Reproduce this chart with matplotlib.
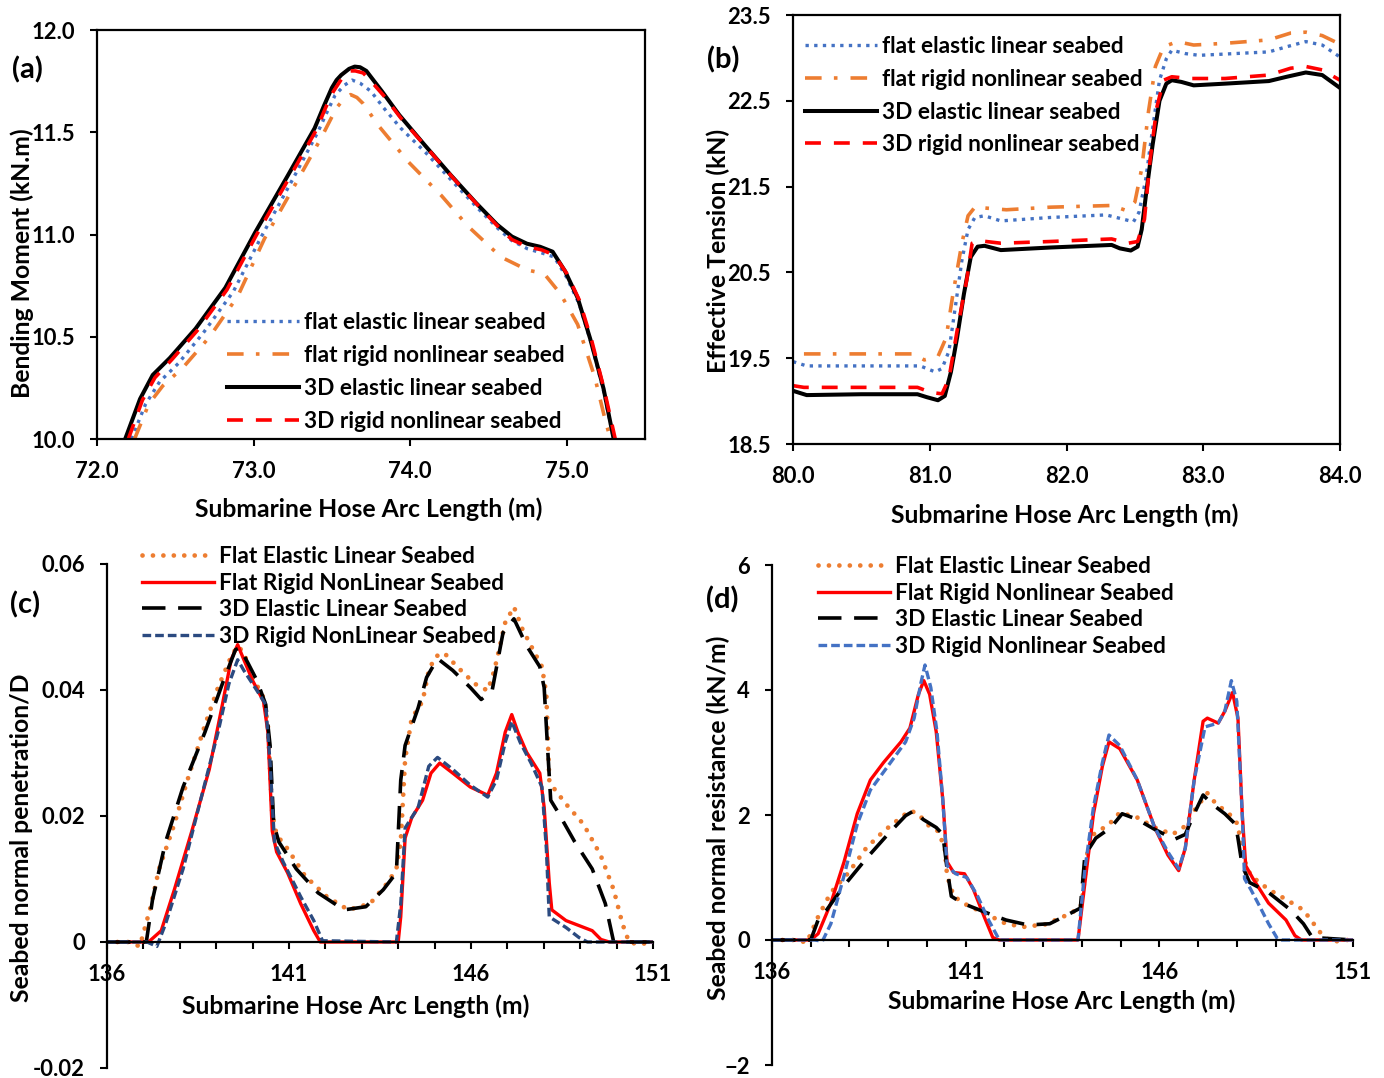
import matplotlib
matplotlib.use('Agg')
import matplotlib.pyplot as plt
from matplotlib.ticker import FuncFormatter, MultipleLocator

plt.rcParams['font.family'] = ['Lato', 'DejaVu Sans']
plt.rcParams['font.weight'] = 'bold'

BLUE = '#4472C4'
ORANGE = '#ED7D31'
RED = '#FF0000'
NAVY = '#2B4A80'

################################## (a) bending moment ##################################
a_x_blue = [72.22, 72.31, 72.40, 72.52, 72.68, 72.87, 73.05, 73.25, 73.41, 73.47, 73.52, 73.58, 73.63, 73.68, 73.75,
            73.83, 73.94, 74.10, 74.27, 74.43, 74.56, 74.65, 74.75, 74.84, 74.92, 75.00, 75.08, 75.16, 75.24, 75.30]
a_y_blue = [10.0, 10.17, 10.28, 10.37, 10.52, 10.72, 10.99, 11.27, 11.50, 11.60, 11.68, 11.73, 11.755, 11.74, 11.70,
            11.62, 11.52, 11.40, 11.26, 11.13, 11.03, 10.97, 10.93, 10.91, 10.89, 10.79, 10.66, 10.46, 10.22, 10.0]
a_x_orange = [72.24, 72.33, 72.42, 72.55, 72.72, 72.90, 73.07, 73.27, 73.43, 73.53, 73.58, 73.62, 73.66, 73.70,
              73.80, 73.99, 74.20, 74.37, 74.58, 74.75, 74.855, 74.96, 75.07, 75.18, 75.25, 75.28]
a_y_orange = [10.0, 10.17, 10.26, 10.35, 10.50, 10.70, 10.98, 11.25, 11.47, 11.62, 11.665, 11.684, 11.67, 11.64,
              11.53, 11.354, 11.19, 11.04, 10.89, 10.826, 10.809, 10.71, 10.56, 10.30, 10.08, 10.0]
a_x_black = [72.18, 72.275, 72.356, 72.465, 72.63, 72.82, 73.01, 73.22, 73.39, 73.45, 73.50, 73.53, 73.56, 73.61,
             73.646, 73.68, 73.72, 73.76, 73.82, 73.93, 74.09, 74.26, 74.42, 74.556, 74.65, 74.746, 74.83, 74.91,
             74.99, 75.07, 75.15, 75.235, 75.30]
a_y_black = [10.0, 10.196, 10.313, 10.396, 10.54, 10.74, 11.01, 11.29, 11.52, 11.63, 11.717, 11.755, 11.78, 11.81,
             11.821, 11.818, 11.80, 11.76, 11.70, 11.585, 11.44, 11.29, 11.155, 11.048, 10.99, 10.955, 10.94,
             10.916, 10.82, 10.69, 10.49, 10.247, 10.0]
a_x_red = [72.20, 72.29, 72.37, 72.48, 72.64, 72.83, 73.02, 73.23, 73.40, 73.46, 73.51, 73.57, 73.62, 73.65, 73.70,
           73.75, 73.83, 73.94, 74.10, 74.27, 74.43, 74.56, 74.65, 74.75, 74.84, 74.92, 75.00, 75.08, 75.16, 75.24,
           75.31]
a_y_red = [10.0, 10.19, 10.30, 10.39, 10.53, 10.73, 11.0, 11.28, 11.51, 11.62, 11.70, 11.77, 11.80, 11.80, 11.79,
           11.75, 11.68, 11.57, 11.43, 11.28, 11.145, 11.04, 10.975, 10.94, 10.925, 10.90, 10.81, 10.68, 10.48, 10.24,
           10.0]
a_labels = ['flat elastic linear seabed', 'flat rigid nonlinear seabed', '3D elastic linear seabed',
            '3D rigid nonlinear seabed']

################################## (b) effective tension ##################################
b_x_blue = [80.0, 80.1, 80.5, 80.93, 81.04, 81.09, 81.14, 81.19, 81.235, 81.28, 81.33, 81.40, 81.52, 81.88, 82.29,
            82.39, 82.49, 82.53, 82.58, 82.63, 82.68, 82.73, 82.77, 82.87, 82.97, 83.48, 83.61, 83.75, 83.87, 84.0]
b_y_blue = [19.46, 19.41, 19.41, 19.41, 19.34, 19.38, 19.58, 20.13, 20.64, 21.0, 21.14, 21.16, 21.10, 21.14, 21.17,
            21.13, 21.09, 21.20, 21.59, 22.18, 22.74, 22.99, 23.09, 23.05, 23.03, 23.07, 23.13, 23.19, 23.15, 23.01]
b_x_orange = [80.08, 80.5, 80.88, 80.96, 81.06, 81.12, 81.17, 81.235, 81.28, 81.33, 81.56, 81.88, 82.33, 82.44,
              82.50, 82.55, 82.60, 82.65, 82.71, 82.81, 82.93, 83.16, 83.48, 83.64, 83.75, 83.87, 84.0]
b_y_orange = [19.55, 19.55, 19.55, 19.48, 19.52, 19.74, 20.25, 20.84, 21.16, 21.26, 21.23, 21.26, 21.28, 21.22,
              21.32, 21.71, 22.38, 22.90, 23.13, 23.19, 23.15, 23.17, 23.21, 23.29, 23.30, 23.26, 23.16]
b_x_black = [80.0, 80.1, 80.5, 80.91, 80.98, 81.06, 81.11, 81.155, 81.20, 81.25, 81.30, 81.35, 81.40, 81.52, 81.88,
             82.33, 82.39, 82.47, 82.52, 82.55, 82.58, 82.63, 82.68, 82.73, 82.77, 82.84, 82.93, 83.16, 83.48,
             83.61, 83.75, 83.87, 84.0]
b_y_black = [19.12, 19.07, 19.08, 19.08, 19.045, 19.01, 19.06, 19.34, 19.74, 20.25, 20.68, 20.80, 20.81, 20.76,
             20.79, 20.82, 20.78, 20.755, 20.80, 21.0, 21.39, 21.99, 22.5, 22.70, 22.74, 22.72, 22.68, 22.70, 22.73,
             22.78, 22.83, 22.80, 22.65]
b_x_red = [80.0, 80.08, 80.5, 80.91, 81.01, 81.09, 81.14, 81.20, 81.27, 81.31, 81.36, 81.52, 81.88, 82.33, 82.45,
           82.52, 82.57, 82.61, 82.66, 82.71, 82.77, 82.90, 83.16, 83.48, 83.64, 83.75, 83.87, 84.0]
b_y_red = [19.18, 19.16, 19.16, 19.16, 19.10, 19.085, 19.26, 19.82, 20.41, 20.84, 20.87, 20.84, 20.86, 20.89, 20.84,
           20.86, 21.12, 21.79, 22.42, 22.74, 22.78, 22.76, 22.76, 22.80, 22.88, 22.90, 22.86, 22.74]

################################## (c) normal penetration ##################################
c_x_orange = [136.0, 136.6, 136.9, 137.2, 137.43, 137.85, 138.21, 138.69, 139.05, 139.41, 139.59, 139.76, 140.0,
              140.3, 140.42, 140.54, 140.66, 140.96, 141.44, 142.04, 142.63, 143.23, 143.71, 143.95, 144.07, 144.19,
              144.37, 144.67, 144.84, 145.02, 145.26, 145.62, 146.10, 146.46, 146.64, 146.94, 147.18, 147.41, 147.65,
              147.95, 148.07, 148.15, 148.25, 148.61, 149.09, 149.56, 149.92, 150.16, 150.34, 150.6, 151.0]
c_y_orange = [0.0, 0.0, -0.0007, 0.0056, 0.0116, 0.0187, 0.0257, 0.0344, 0.0404, 0.0453, 0.047, 0.0459, 0.042,
              0.0388, 0.0344, 0.0203, 0.017, 0.0148, 0.0105, 0.0072, 0.0051, 0.0061, 0.0094, 0.0116, 0.0159, 0.029,
              0.0355, 0.0382, 0.0431, 0.0453, 0.0459, 0.0437, 0.041, 0.0399, 0.0431, 0.0507, 0.0532, 0.0497, 0.047,
              0.0437, 0.0393, 0.0257, 0.0246, 0.0219, 0.0187, 0.0138, 0.0083, 0.0029, 0.0, -0.0004, 0.0]
c_x_red = [136.0, 136.8, 137.14, 137.49, 137.85, 138.33, 138.81, 139.17, 139.41, 139.59, 139.76, 140.0, 140.3,
           140.42, 140.54, 140.66, 140.96, 141.32, 141.68, 141.86, 144.0, 144.07, 144.19, 144.37, 144.67, 144.9,
           145.14, 145.5, 145.98, 146.46, 146.7, 146.94, 147.12, 147.29, 147.53, 147.89, 148.01, 148.15, 148.22,
           148.61, 149.33, 149.57, 149.8, 151.0]
c_y_red = [0.0, 0.0, 0.0, 0.0018, 0.0083, 0.0176, 0.0274, 0.0377, 0.0448, 0.0472, 0.0448, 0.0415, 0.0382, 0.0333,
           0.0176, 0.0143, 0.011, 0.0061, 0.0018, 0.0, 0.0, 0.004, 0.0165, 0.0197, 0.0225, 0.0268, 0.0284, 0.0268,
           0.0246, 0.0233, 0.0268, 0.0333, 0.0361, 0.0333, 0.0301, 0.0268, 0.0214, 0.0094, 0.0051, 0.0034, 0.0018,
           0.0004, 0.0, 0.0]
c_x_black = [136.0, 136.6, 137.08, 137.25, 137.61, 138.09, 138.69, 139.17, 139.53, 139.65, 139.88, 140.12, 140.36,
             140.48, 140.58, 140.72, 141.2, 141.8, 142.51, 143.11, 143.59, 143.95, 144.07, 144.19, 144.55, 144.78,
             145.08, 145.5, 145.98, 146.28, 146.58, 146.88, 147.18, 147.53, 147.89, 148.01, 148.10, 148.19, 148.37,
             148.85, 149.33, 149.69, 149.92, 151.0]
c_y_black = [0.0, 0.0, 0.0, 0.0067, 0.0159, 0.0246, 0.0333, 0.041, 0.0464, 0.0467, 0.0442, 0.0415, 0.0377, 0.0312,
             0.0187, 0.0159, 0.0116, 0.0078, 0.0051, 0.0056, 0.0083, 0.011, 0.0257, 0.0312, 0.0372, 0.042, 0.045,
             0.0431, 0.0404, 0.0385, 0.0399, 0.0491, 0.0513, 0.047, 0.0437, 0.0404, 0.0312, 0.0225, 0.0208, 0.0159,
             0.0116, 0.0061, 0.0, 0.0]
c_x_navy = [136.0, 137.1, 137.37, 137.61, 138.09, 138.57, 139.05, 139.35, 139.59, 139.76, 140.12, 140.36, 140.48,
            140.6, 140.84, 141.32, 141.68, 141.92, 143.95, 144.07, 144.19, 144.55, 144.84, 145.08, 145.5, 145.98,
            146.46, 146.7, 146.94, 147.12, 147.35, 147.65, 147.95, 148.07, 148.15, 148.61, 148.97, 149.2, 151.0]
c_y_navy = [0.0, 0.0, -0.0007, 0.0029, 0.0116, 0.0225, 0.0333, 0.041, 0.0448, 0.0431, 0.0399, 0.0377, 0.0284,
            0.0159, 0.0127, 0.0072, 0.0034, 0.0002, 0.0, 0.006, 0.0181, 0.0214, 0.0279, 0.0293, 0.0274, 0.0249,
            0.023, 0.0257, 0.0317, 0.035, 0.0317, 0.0284, 0.0246, 0.0148, 0.004, 0.0023, 0.0007, 0.0, 0.0]
c_labels = ['Flat Elastic Linear Seabed', 'Flat Rigid NonLinear Seabed', '3D Elastic Linear Seabed',
            '3D Rigid NonLinear Seabed']

################################## (d) normal resistance ##################################
d_x_orange = [136.0, 136.6, 136.9, 137.19, 137.52, 137.98, 138.43, 138.88, 139.33, 139.56, 139.78, 140.0, 140.29,
              140.46, 140.52, 140.69, 141.03, 141.48, 142.04, 142.5, 143.06, 143.51, 143.96, 144.02, 144.13, 144.3,
              144.7, 144.98, 145.43, 145.88, 146.34, 146.62, 146.9, 147.24, 147.46, 147.8, 148.03, 148.14, 148.36,
              148.82, 149.27, 149.72, 150.18, 150.46, 150.7, 151.0]
d_y_orange = [0.0, 0.0, -0.04, 0.37, 0.76, 1.08, 1.47, 1.74, 1.96, 2.07, 2.02, 1.85, 1.74, 1.47, 1.03, 0.70, 0.56,
              0.43, 0.26, 0.21, 0.25, 0.37, 0.51, 0.70, 1.36, 1.69, 1.85, 2.04, 1.96, 1.80, 1.69, 1.80, 2.07, 2.35,
              2.18, 2.02, 1.85, 1.36, 1.03, 0.81, 0.65, 0.48, 0.10, -0.04, 0.0, 0.0]
d_x_red = [136.0, 137.0, 137.19, 137.52, 137.86, 138.2, 138.54, 138.88, 139.33, 139.56, 139.78, 139.92, 140.07,
           140.24, 140.41, 140.52, 140.69, 140.97, 141.2, 141.48, 141.7, 141.87, 143.9, 144.08, 144.3, 144.53, 144.7,
           144.98, 145.43, 145.88, 146.22, 146.5, 146.67, 146.9, 147.13, 147.24, 147.52, 147.69, 147.89, 148.03,
           148.14, 148.23, 148.42, 148.82, 149.27, 149.5, 149.67, 151.0]
d_y_red = [0.0, 0.0, 0.1, 0.59, 1.25, 2.02, 2.56, 2.84, 3.17, 3.39, 3.93, 4.15, 3.93, 3.33, 2.24, 1.25, 1.08, 1.06,
           0.81, 0.37, 0.04, 0.0, 0.0, 0.92, 2.02, 2.78, 3.17, 3.06, 2.56, 1.80, 1.36, 1.11, 1.47, 2.56, 3.50, 3.55,
           3.47, 3.66, 3.96, 3.55, 2.02, 1.19, 0.98, 0.59, 0.32, 0.07, 0.0, 0.0]
d_x_black = [136.0, 137.0, 137.19, 137.41, 137.86, 138.43, 138.99, 139.45, 139.67, 139.9, 140.24, 140.41, 140.52,
             140.63, 140.91, 141.48, 142.04, 142.61, 143.17, 143.62, 143.96, 144.08, 144.36, 144.75, 145.04, 145.43,
             145.88, 146.39, 146.67, 146.9, 147.13, 147.35, 147.69, 147.97, 148.03, 148.14, 148.33, 148.82, 149.39,
             149.72, 149.95, 151.0]
d_y_black = [0.0, 0.0, 0.32, 0.48, 0.87, 1.30, 1.69, 1.99, 2.07, 1.93, 1.80, 1.69, 1.14, 0.70, 0.59, 0.45, 0.32,
             0.24, 0.26, 0.40, 0.51, 1.36, 1.63, 1.80, 2.02, 1.93, 1.77, 1.61, 1.69, 2.02, 2.32, 2.18, 2.02, 1.85,
             1.63, 1.19, 0.92, 0.76, 0.48, 0.26, 0.04, 0.0]
d_x_blue = [136.0, 137.1, 137.3, 137.52, 137.86, 138.2, 138.54, 138.99, 139.45, 139.67, 139.84, 139.95, 140.1,
            140.26, 140.41, 140.52, 140.74, 141.03, 141.31, 141.59, 141.87, 143.9, 144.08, 144.3, 144.53, 144.7,
            144.98, 145.43, 145.88, 146.22, 146.5, 146.67, 146.9, 147.18, 147.52, 147.69, 147.86, 148.0, 148.14,
            148.2, 148.36, 148.59, 148.82, 149.05, 149.16, 151.0]
d_y_blue = [0.0, 0.0, -0.02, 0.26, 1.03, 1.85, 2.4, 2.78, 3.17, 3.55, 4.1, 4.40, 4.04, 3.33, 2.24, 1.19, 1.06, 1.0,
            0.70, 0.32, 0.0, 0.0, 1.14, 2.13, 2.84, 3.28, 3.11, 2.56, 1.80, 1.41, 1.14, 1.47, 2.56, 3.41, 3.47, 3.66,
            4.15, 3.82, 2.02, 0.98, 0.81, 0.54, 0.26, 0.02, 0.0, 0.0]
d_labels = ['Flat Elastic Linear Seabed', 'Flat Rigid Nonlinear Seabed', '3D Elastic Linear Seabed',
            '3D Rigid Nonlinear Seabed']

x_title = 'Submarine Hose Arc Length (m)'

fig = plt.figure(figsize=(13.84, 10.78), dpi=100)
W, H = 1384.0, 1078.0


def px_axes(l, t, r, b):
    # axes box given in pixel coordinates of the picture
    return fig.add_axes([l / W, 1 - b / H, (r - l) / W, (b - t) / H])


TICK = 15.8
LAB = 17.8
LEG = 16.3
PANEL = 21
leg_kw = dict(loc='upper left', bbox_transform=fig.transFigure, frameon=False, fontsize=LEG,
              handlelength=3.2, handletextpad=0.22, borderpad=0, borderaxespad=0)
dots = (0, (0.01, 2.2))

# ---------------- (a)
ax = px_axes(97, 30, 645, 439)
ax.plot(a_x_blue, a_y_blue, color=BLUE, lw=2.4, linestyle=(0, (1, 1.6)), label=a_labels[0])
ax.plot(a_x_orange, a_y_orange, color=ORANGE, lw=2.6, linestyle=(0, (4.6, 3.4, 1, 3.6)), label=a_labels[1])
ax.plot(a_x_black, a_y_black, color='black', lw=2.9, label=a_labels[2])
ax.plot(a_x_red, a_y_red, color=RED, lw=2.6, linestyle=(0, (4.4, 3.6)), label=a_labels[3])
ax.set_xlim(72.0, 75.5)
ax.set_ylim(10.0, 12.0)
ax.set_xticks([72.0, 73.0, 74.0, 75.0])
ax.set_yticks([10.0, 10.5, 11.0, 11.5, 12.0])
ax.xaxis.set_major_formatter(FuncFormatter(lambda v, p: '%.1f' % v))
ax.yaxis.set_major_formatter(FuncFormatter(lambda v, p: '%.1f' % v))
ax.legend(bbox_to_anchor=(227 / W, 1 - 312 / H), labelspacing=0.53, **leg_kw)
fig.text(369 / W, 1 - 509 / H, x_title, ha='center', va='center', fontsize=LAB, fontweight='bold')
fig.text(22 / W, 1 - 263 / H, 'Bending Moment (kN.m)', rotation=90, ha='center', va='center',
         fontsize=LAB, fontweight='bold')
fig.text(27 / W, 1 - 70 / H, '(a)', ha='center', va='center', fontsize=PANEL, fontweight='bold')
axes_a = ax

# ---------------- (b)
ax = px_axes(793, 15, 1340, 444)
ax.plot(b_x_blue, b_y_blue, color=BLUE, lw=2.4, linestyle=(0, (1, 1.6)), label=a_labels[0])
ax.plot(b_x_orange, b_y_orange, color=ORANGE, lw=2.6, linestyle=(0, (4.6, 3.4, 1, 3.6)), label=a_labels[1])
ax.plot(b_x_black, b_y_black, color='black', lw=2.9, label=a_labels[2])
ax.plot(b_x_red, b_y_red, color=RED, lw=2.6, linestyle=(0, (4.4, 3.6)), label=a_labels[3])
ax.set_xlim(80.0, 84.0)
ax.set_ylim(18.5, 23.5)
ax.set_xticks([80.0, 81.0, 82.0, 83.0, 84.0])
ax.set_yticks([18.5, 19.5, 20.5, 21.5, 22.5, 23.5])
ax.xaxis.set_major_formatter(FuncFormatter(lambda v, p: '%.1f' % v))
ax.yaxis.set_major_formatter(FuncFormatter(lambda v, p: '%.1f' % v))
ax.legend(bbox_to_anchor=(805 / W, 1 - 36 / H), labelspacing=0.52, **leg_kw)
fig.text(1065 / W, 1 - 515 / H, x_title, ha='center', va='center', fontsize=LAB, fontweight='bold')
fig.text(718 / W, 1 - 251 / H, 'Effective Tension (kN)', rotation=90, ha='center', va='center',
         fontsize=LAB, fontweight='bold')
fig.text(723 / W, 1 - 60 / H, '(b)', ha='center', va='center', fontsize=PANEL, fontweight='bold')
axes_b = ax

for ax in (axes_a, axes_b):
    for s in ax.spines.values():
        s.set_linewidth(1.6)
    ax.tick_params(direction='out', length=5, width=1.5, labelsize=TICK, pad=11)

# ---------------- (c)
ax = px_axes(107, 564, 653, 1068)
ax.plot(c_x_orange, c_y_orange, color=ORANGE, lw=3.4, linestyle=dots, dash_capstyle='round', label=c_labels[0])
ax.plot(c_x_red, c_y_red, color=RED, lw=2.4, label=c_labels[1])
ax.plot(c_x_black, c_y_black, color='black', lw=2.6, linestyle=(0, (6.5, 3.5)), label=c_labels[2])
ax.plot(c_x_navy, c_y_navy, color=NAVY, lw=2.4, linestyle=(0, (2.6, 1.2)), label=c_labels[3])
ax.set_xlim(136, 151)
ax.set_ylim(-0.02, 0.06)
ax.set_yticks([-0.02, 0.0, 0.02, 0.04, 0.06])
ax.yaxis.set_major_formatter(FuncFormatter(lambda v, p: '0' if abs(v) < 1e-9 else '%.2f' % v))
ax.legend(bbox_to_anchor=(142 / W, 1 - 546 / H), labelspacing=0.25, **leg_kw)
fig.text(356 / W, 1 - 1006 / H, x_title, ha='center', va='center', fontsize=LAB, fontweight='bold')
fig.text(22 / W, 1 - 838 / H, 'Seabed normal penetration/D', rotation=90, ha='center', va='center',
         fontsize=LAB, fontweight='bold')
fig.text(25 / W, 1 - 605 / H, '(c)', ha='center', va='center', fontsize=PANEL, fontweight='bold')
axes_c = ax

# ---------------- (d)
ax = px_axes(772, 565, 1353, 1065)
ax.plot(d_x_orange, d_y_orange, color=ORANGE, lw=3.4, linestyle=dots, dash_capstyle='round', label=d_labels[0])
ax.plot(d_x_red, d_y_red, color=RED, lw=2.4, label=d_labels[1])
ax.plot(d_x_black, d_y_black, color='black', lw=2.6, linestyle=(0, (6.5, 3.5)), label=d_labels[2])
ax.plot(d_x_blue, d_y_blue, color=BLUE, lw=2.4, linestyle=(0, (2.6, 1.2)), label=d_labels[3])
ax.set_xlim(136, 151)
ax.set_ylim(-2, 6)
ax.set_yticks([-2, 0, 2, 4, 6])
ax.legend(bbox_to_anchor=(818 / W, 1 - 556 / H), labelspacing=0.25, **leg_kw)
fig.text(1062 / W, 1 - 1001 / H, x_title, ha='center', va='center', fontsize=LAB, fontweight='bold')
fig.text(718 / W, 1 - 818 / H, 'Seabed normal resistance (kN/m)', rotation=90, ha='center', va='center',
         fontsize=LAB, fontweight='bold')
fig.text(722 / W, 1 - 600 / H, '(d)', ha='center', va='center', fontsize=PANEL, fontweight='bold')
axes_d = ax

for ax in (axes_c, axes_d):
    ax.spines['top'].set_visible(False)
    ax.spines['right'].set_visible(False)
    ax.spines['bottom'].set_position(('data', 0))
    ax.spines['bottom'].set_linewidth(1.6)
    ax.spines['left'].set_linewidth(1.6)
    ax.xaxis.set_major_locator(MultipleLocator(1))
    ax.xaxis.set_major_formatter(FuncFormatter(lambda v, p: '%d' % round(v) if round(v - 136) % 5 == 0 else ''))
    ax.tick_params(direction='out', length=5, width=1.5, labelsize=TICK, pad=11)

fig.savefig('out.png', dpi=100)
